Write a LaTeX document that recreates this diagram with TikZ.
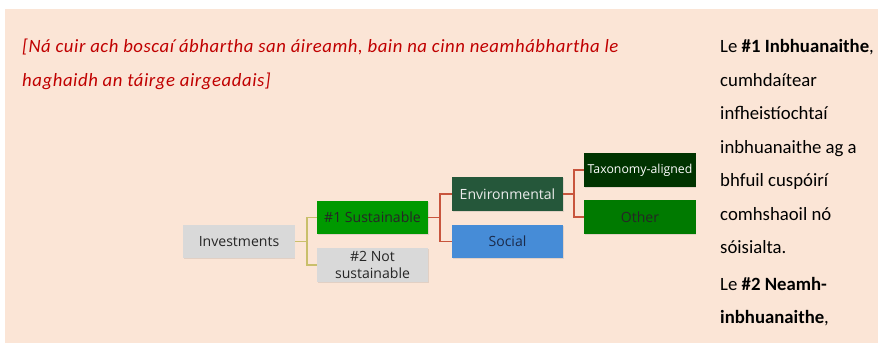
\documentclass[tikz,border=0pt]{standalone}
\usepackage{fontspec}
\setmainfont{Carlito}
\newfontfamily\boxfont{Open Sans}
\usetikzlibrary{shadows}

\definecolor{peach}{HTML}{FBE5D6}
\definecolor{notered}{HTML}{C00000}
\definecolor{boxgrey}{HTML}{D9D9D9}
\definecolor{sustgreen}{RGB}{0,153,0}
\definecolor{envgreen}{RGB}{37,87,58}
\definecolor{socblue}{RGB}{70,140,215}
\definecolor{taxgreen}{RGB}{0,51,0}
\definecolor{othgreen}{RGB}{0,122,0}
\definecolor{linkolive}{RGB}{201,191,107}
\definecolor{linkred}{RGB}{200,85,61}

\tikzset{
  box/.style={minimum width=33.4mm, minimum height=10mm, inner sep=0pt,
    font=\boxfont\fontsize{12}{15}\selectfont, text=black!85,
    drop shadow={shadow xshift=0.6pt, shadow yshift=-0.8pt, opacity=0.2}},
  notetext/.style={anchor=base west, inner sep=0pt, text=notered,
    font=\itshape\fontsize{16}{19}\selectfont\addfontfeature{LetterSpace=3}},
  sidetext/.style={anchor=base west, inner sep=0pt,
    font=\fontsize{16}{19}\selectfont},
  olivelink/.style={draw=linkolive, line width=0.9pt},
  redlink/.style={draw=linkred, line width=0.9pt}
}

\begin{document}
\begin{tikzpicture}[x=0.3mm,y=-0.3mm]
\useasboundingbox (0,0) rectangle (878,343);
\fill[peach] (5,9) rectangle (878,343);

% note at the top
\node[notetext] (note1) at (22,53) {[Ná cuir ach boscaí ábhartha san áireamh, bain na cinn neamhábhartha le};
\node[notetext] (note2) at (22,86.5) {haghaidh an táirge airgeadais]};

% boxes
\node[box, fill=boxgrey] (inv) at (239,241.5) {Investments};
\node[box, fill=sustgreen] (sust) at (372.5,217.5) {\#1 Sustainable};
\node[box, fill=boxgrey, align=center] (notsust) at (372.5,265) {\#2 Not\\sustainable};
\node[box, fill=envgreen, text=white!92!black] (env) at (507.5,194) {Environmental};
\node[box, fill=socblue, text={rgb,255:red,27;green,43;blue,75}] (soc) at (507.5,241.5) {Social};
\node[box, fill=taxgreen, text=white, font=\boxfont\fontsize{10.5}{12}\selectfont] (tax) at (640,170) {Taxonomy-aligned};
\node[box, fill=othgreen] (oth) at (640,217) {Other};

% connectors
\coordinate (j1) at (307,241.5);
\draw[olivelink] (inv.east) -- (j1) |- (sust.west);
\draw[olivelink] (j1) |- (notsust.west);

\coordinate (j2) at (440,217.5);
\draw[redlink] (sust.east) -- (j2) |- (env.west);
\draw[redlink] (j2) |- (soc.west);

\coordinate (j3) at (574,194);
\draw[redlink] (env.east) -- (j3) |- (tax.west);
\draw[redlink] (j3) |- (oth.west);

% side text
\foreach \yy/\txt [count=\i] in {53/{Le \textbf{\#1 Inbhuanaithe},}, 86.5/{cumhdaítear},
    120/{infheistíochtaí}, 153.5/{inbhuanaithe ag a}, 187/{bhfuil cuspóirí},
    220.5/{comhshaoil nó}, 254/{sóisialta.}, 290/{Le \textbf{\#2 Neamh-}},
    323.5/{\textbf{inbhuanaithe},}}
  \node[sidetext] (side\i) at (720,\yy) {\txt};

\end{tikzpicture}
\end{document}
